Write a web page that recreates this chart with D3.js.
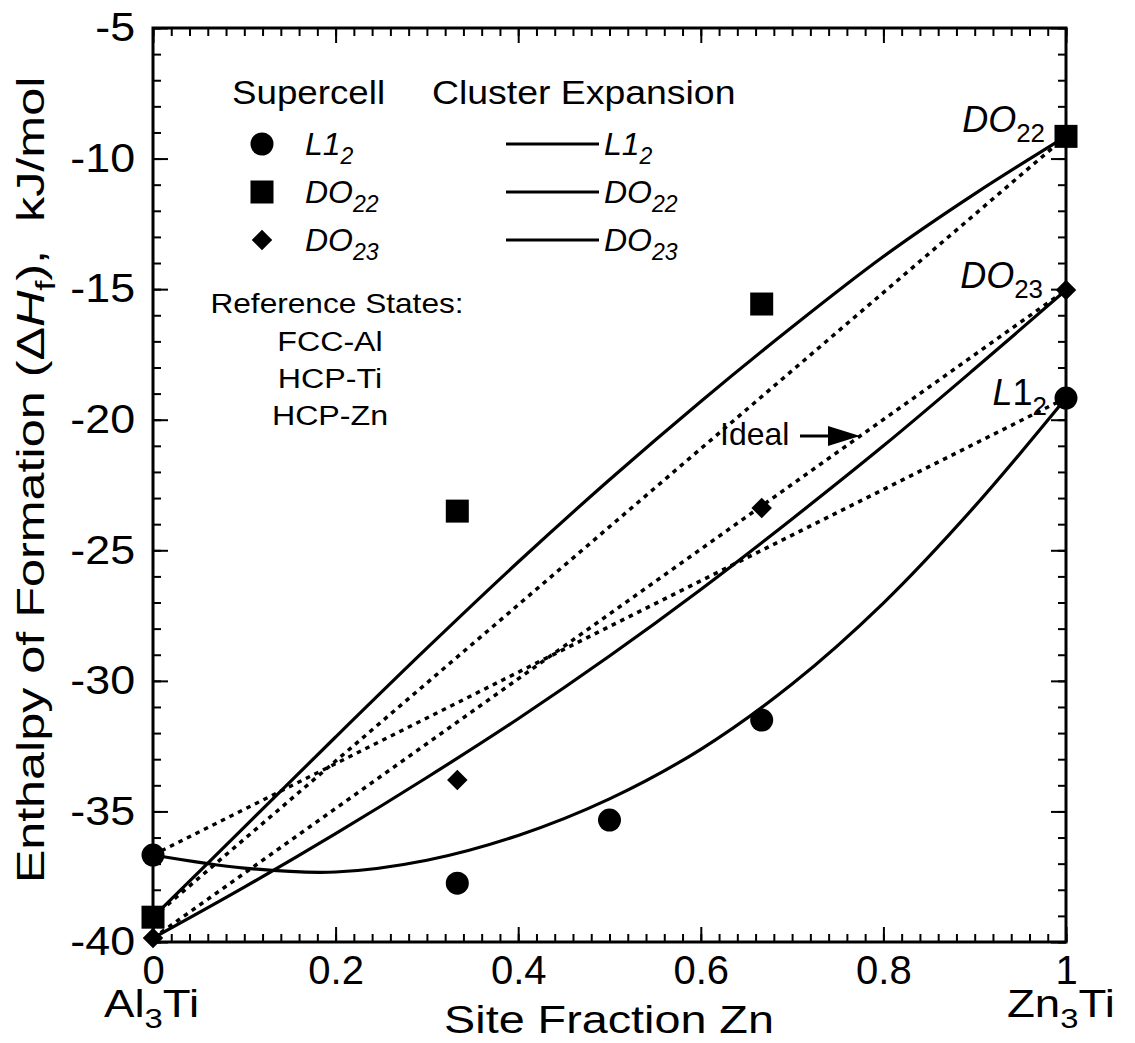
<!DOCTYPE html>
<html>
<head>
<meta charset="utf-8">
<script src="https://cdn.jsdelivr.net/npm/d3@7"></script>
<style>
  body { margin: 0; background: #fff; }
  svg text { font-family: "Liberation Sans", Arial, Helvetica, sans-serif; fill: #000; }
</style>
</head>
<body>
<svg id="chart" width="1135" height="1043"></svg>
<script>
// supercell points (site fraction Zn, enthalpy kJ/mol)
const xL12 = [0, 0.3333, 0.5, 0.6667, 1];
const yL12 = [-36.67, -37.75, -35.33, -31.5, -19.17];
const xDO22 = [0, 0.3333, 0.6667, 1];
const yDO22 = [-39.05, -23.5, -15.57, -9.15];
const xDO23 = [0, 0.3333, 0.6667, 1];
const yDO23 = [-39.85, -33.8, -23.38, -15.03];

const ceX = [0, 0.1, 0.2, 0.3, 0.4, 0.5, 0.6, 0.7, 0.8, 0.9, 1];
const ceL12 = [-36.67, -37.17, -37.32, -36.87, -35.92, -34.52, -32.62, -30.12, -27.02, -23.32, -19.17];
const ceDO22 = [-39.05, -35.6, -32.15, -28.75, -25.45, -22.3, -19.3, -16.45, -13.75, -11.35, -9.15];
const ceDO23 = [-39.85, -37.9, -35.85, -33.7, -31.45, -29.05, -26.5, -23.8, -21.0, -18.05, -15.03];

const xTicks = [0, 0.2, 0.4, 0.6, 0.8, 1];
const yTicks = [-40, -35, -30, -25, -20, -15, -10, -5];

const margin = {top: 28, right: 69, bottom: 101, left: 153},
      width = 1135 - margin.left - margin.right,
      height = 1043 - margin.top - margin.bottom;

const svg = d3.select("#chart");
const g = svg.append("g").attr("transform", `translate(${margin.left},${margin.top})`);

const x = d3.scaleLinear().domain([0, 1]).range([0, width]);
const y = d3.scaleLinear().domain([-40, -5]).range([height, 0]);

const fmt = d => String(d);

// axes: inward ticks on all four sides
function styleAxis(sel) {
  sel.select(".domain").remove();
  sel.selectAll("line").attr("stroke", "#000").attr("stroke-width", 2);
  sel.attr("font-family", null).attr("font-size", null);
  sel.selectAll("text").attr("font-size", 40);
}
const xMinor = d3.range(0, 1.0001, 0.02);
const yMinor = d3.range(-40, -4.99, 1);

g.append("g").attr("transform", `translate(0,${height})`)
  .call(d3.axisBottom(x).tickValues(xMinor).tickFormat("").tickSize(-8)).call(styleAxis);
g.append("g").attr("transform", `translate(0,${height})`)
  .call(d3.axisBottom(x).tickValues(xTicks).tickFormat(fmt).tickSize(-15).tickPadding(14)).call(styleAxis);
g.append("g")
  .call(d3.axisTop(x).tickValues(xMinor).tickFormat("").tickSize(-8)).call(styleAxis);
g.append("g")
  .call(d3.axisTop(x).tickValues(xTicks).tickFormat("").tickSize(-15)).call(styleAxis);
g.append("g")
  .call(d3.axisLeft(y).tickValues(yMinor).tickFormat("").tickSize(-8)).call(styleAxis);
g.append("g")
  .call(d3.axisLeft(y).tickValues(yTicks).tickFormat(fmt).tickSize(-15).tickPadding(16)).call(styleAxis)
  .selectAll("text").attr("transform", "scale(1.12,1)");
g.append("g").attr("transform", `translate(${width},0)`)
  .call(d3.axisRight(y).tickValues(yMinor).tickFormat("").tickSize(-8)).call(styleAxis);
g.append("g").attr("transform", `translate(${width},0)`)
  .call(d3.axisRight(y).tickValues(yTicks).tickFormat("").tickSize(-15)).call(styleAxis);

g.append("rect").attr("width", width).attr("height", height)
  .attr("fill", "none").attr("stroke", "#000").attr("stroke-width", 3);

// ideal mixing lines (dotted)
const ideal = [[xL12, yL12], [xDO22, yDO22], [xDO23, yDO23]];
ideal.forEach(([xs, ys]) => {
  g.append("line")
    .attr("x1", x(xs[0])).attr("y1", y(ys[0]))
    .attr("x2", x(xs[xs.length - 1])).attr("y2", y(ys[ys.length - 1]))
    .attr("stroke", "#000").attr("stroke-width", 3.5)
    .attr("stroke-dasharray", "4.5,5");
});

// cluster expansion curves
const line = d3.line().x(d => x(d[0])).y(d => y(d[1])).curve(d3.curveCatmullRom.alpha(0.5));
[ceL12, ceDO22, ceDO23].forEach(vals => {
  g.append("path")
    .datum(ceX.map((v, i) => [v, vals[i]]))
    .attr("d", line)
    .attr("fill", "none").attr("stroke", "#000").attr("stroke-width", 3.2);
});

// supercell symbols
const circle = d3.symbol().type(d3.symbolCircle).size(Math.PI * 11.5 * 11.5);
const square = d3.symbol().type(d3.symbolSquare).size(23 * 23);
const diamond = d3.symbol().type(d3.symbolSquare).size(14.5 * 14.5);
function points(xs, ys, sym, rot) {
  g.selectAll(null)
    .data(xs.map((v, i) => [v, ys[i]]))
    .enter().append("path")
    .attr("d", sym)
    .attr("transform", d => `translate(${x(d[0])},${y(d[1])}) rotate(${rot})`)
    .attr("fill", "#000");
}
points(xL12, yL12, circle, 0);
points(xDO22, yDO22, square, 0);
points(xDO23, yDO23, diamond, 45);

// text helper with italic / subscript parts
function rich(parent, px, py, parts, size, opt = {}) {
  const t = parent.append("text")
    .attr("transform", `translate(${px},${py})${opt.rot ? ` rotate(${opt.rot})` : ""} scale(${opt.sx || 1},1)`)
    .attr("font-size", size)
    .attr("text-anchor", opt.anchor || "start")
    .style("white-space", "pre");
  let shift = 0;
  parts.forEach(([s, f = ""]) => {
    const sub = f.includes("s");
    const want = sub ? size * 0.28 : 0;
    const ts = t.append("tspan").text(s);
    if (want - shift !== 0) ts.attr("dy", want - shift);
    if (sub) ts.attr("font-size", size * 0.72);
    if (f.includes("i")) ts.attr("font-style", "italic");
    shift = want;
  });
  return t;
}

// axis titles
rich(svg, 609, 1033, [["Site Fraction Zn"]], 38, {anchor: "middle", sx: 1.23});
rich(svg, 104, 1017, [["Al"], ["3", "s"], ["Ti"]], 39, {sx: 1.17});
rich(svg, 1007, 1017, [["Zn"], ["3", "s"], ["Ti"]], 39, {sx: 1.17});
rich(svg, 44, 480, [["Enthalpy of Formation ("], ["\u0394"], ["H", "i"], ["f", "s"], ["),  kJ/mol"]], 39,
  {anchor: "middle", rot: -90, sx: 1.29});

// legend
rich(svg, 232, 104, [["Supercell"]], 34, {sx: 1.08});
rich(svg, 432, 104, [["Cluster Expansion"]], 34, {sx: 1.1});
const legRows = [
  {yy: 144, sym: circle, rot: 0, parts: [["L1", "i"], ["2", "si"]]},
  {yy: 192, sym: square, rot: 0, parts: [["DO", "i"], ["22", "si"]]},
  {yy: 240, sym: diamond, rot: 45, parts: [["DO", "i"], ["23", "si"]]}
];
legRows.forEach(r => {
  svg.append("path").attr("d", r.sym).attr("fill", "#000")
    .attr("transform", `translate(262,${r.yy}) rotate(${r.rot})`);
  rich(svg, 305, r.yy + 11, r.parts, 32);
  svg.append("line").attr("x1", 506).attr("x2", 599).attr("y1", r.yy).attr("y2", r.yy)
    .attr("stroke", "#000").attr("stroke-width", 3);
  rich(svg, 604, r.yy + 11, r.parts, 32);
});

// reference states
rich(svg, 337, 313, [["Reference States:"]], 28, {anchor: "middle", sx: 1.13});
rich(svg, 330, 351, [["FCC-Al"]], 28, {anchor: "middle", sx: 1.15});
rich(svg, 330, 388, [["HCP-Ti"]], 28, {anchor: "middle", sx: 1.15});
rich(svg, 330, 425, [["HCP-Zn"]], 28, {anchor: "middle", sx: 1.15});

// end labels
rich(svg, 1045, 132, [["DO", "i"], ["22", "s"]], 36, {anchor: "end"});
rich(svg, 1043, 288, [["DO", "i"], ["23", "s"]], 36, {anchor: "end"});
rich(svg, 1047, 405, [["L", "i"], ["1"], ["2", "s"]], 36, {anchor: "end"});

// ideal annotation with arrow
rich(svg, 720, 445, [["Ideal"]], 32);
svg.append("line").attr("x1", 800).attr("x2", 830).attr("y1", 436).attr("y2", 436)
  .attr("stroke", "#000").attr("stroke-width", 3);
svg.append("path").attr("d", "M828,426L860,436L828,446Z").attr("fill", "#000");
</script>
</body>
</html>
